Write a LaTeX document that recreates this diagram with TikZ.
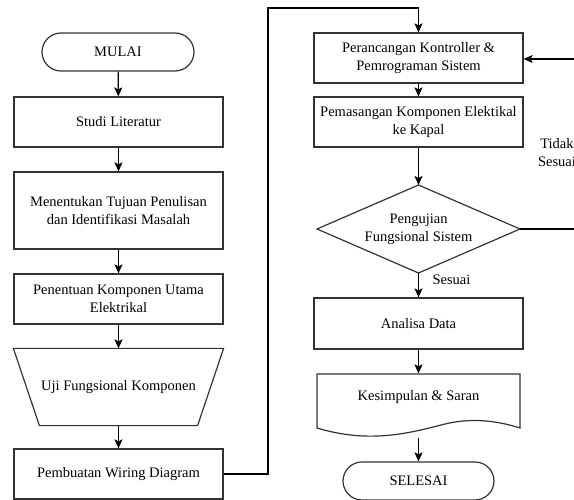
\documentclass[tikz,border=0pt]{standalone}
\usepackage{fontspec}
\setmainfont{Liberation Serif}
\usetikzlibrary{arrows.meta,positioning}
\begin{document}
\begin{tikzpicture}[x=1pt,y=-1pt,
  font=\fontsize{14.5}{18}\selectfont,
  line width=1.2pt,
  box/.style={draw=black!80, rectangle, minimum width=209pt, minimum height=50pt, align=center, inner sep=1pt},
  term/.style={draw=black!80, rectangle, rounded corners=19pt, minimum width=152pt, minimum height=38pt, align=center},
  arr/.style={-{Stealth[length=9pt,width=8pt,inset=2pt]}, line width=1.2pt},
  lbl/.style={align=center, inner sep=0pt}
]
\useasboundingbox (0,0) rectangle (574,500);
\clip (0,0) rectangle (574,500);

% left column
\node[term] (mulai) at (118,52) {MULAI};
\node[box] (studi) at (118.5,122) {Studi Literatur};
\node[box, minimum height=77pt] (tujuan) at (118.5,210.5) {Menentukan Tujuan Penulisan\\dan Identifikasi Masalah};
\node[box] (penentuan) at (118.5,299) {Penentuan Komponen Utama\\Elektrikal};
\node[rectangle, minimum width=209pt, minimum height=76pt, inner sep=0pt] (uji) at (118.5,387) {Uji Fungsional Komponen};
\draw[draw=black!80] (uji.north west) -- (uji.north east) -- ([xshift=-26pt]uji.south east) -- ([xshift=26pt]uji.south west) -- cycle;
\node[box] (wiring) at (118.5,474) {Pembuatan Wiring Diagram};

% right column
\node[box] (peranc) at (418.5,58) {Perancangan Kontroller \&\\Pemrograman Sistem};
\node[box] (pemas) at (418.5,122) {Pemasangan Komponen Elektikal\\ke Kapal};
\node[lbl] (uji2) at (418.5,229) {Pengujian\\Fungsional Sistem};
\coordinate (dtop) at (418.5,185);
\coordinate (dbot) at (418.5,273);
\coordinate (dwest) at (317,229);
\coordinate (deast) at (520,229);
\draw[draw=black!80] (dwest) -- (dtop) -- (deast) -- (dbot) -- cycle;
\node[box, minimum height=51pt] (analisa) at (418.5,323.5) {Analisa Data};
\node[rectangle, minimum width=203pt, minimum height=54pt, inner sep=0pt] (kesim) at (418.5,401) {};
\draw[draw=black!80] (317,374) -- (520,374) -- (520,428)
  .. controls (495,420) and (470,418) .. (445,424)
  .. controls (410,433) and (370,444) .. (317,428) -- cycle;
\node[lbl] at (418.5,397) {Kesimpulan \& Saran};
\coordinate (kesimb) at (418.5,438);
\node[term, minimum width=151pt] (selesai) at (418.5,481) {SELESAI};

% connectors
\draw[arr] (mulai) -- (studi);
\draw[arr] (studi) -- (tujuan);
\draw[arr] (tujuan) -- (penentuan);
\draw[arr] (penentuan) -- (uji);
\draw[arr] (uji) -- (wiring);
\coordinate (w1) at (268,474);
\coordinate (w2) at (268,8);
\coordinate (w3) at (418.5,8);
\draw[arr] (wiring.east) -- (w1) -- (w2) -- (w3) -- (peranc.north);
\draw[arr] (peranc) -- (pemas);
\draw[arr] (pemas.south) -- (dtop);
\draw[arr] (dbot) -- (analisa.north);
\node[anchor=west, inner sep=0pt] at (432,280) {Sesuai};
\draw[arr] (analisa) -- (kesim.north);
\draw[arr] (kesimb) -- (selesai.north);
\coordinate (r1) at (590,229);
\coordinate (r2) at (590,59);
\draw[arr] (deast) -- (r1) -- (r2) -- (peranc.east |- r2);
\node[lbl] at (557,153) {Tidak\\Sesuai};
\end{tikzpicture}
\end{document}
